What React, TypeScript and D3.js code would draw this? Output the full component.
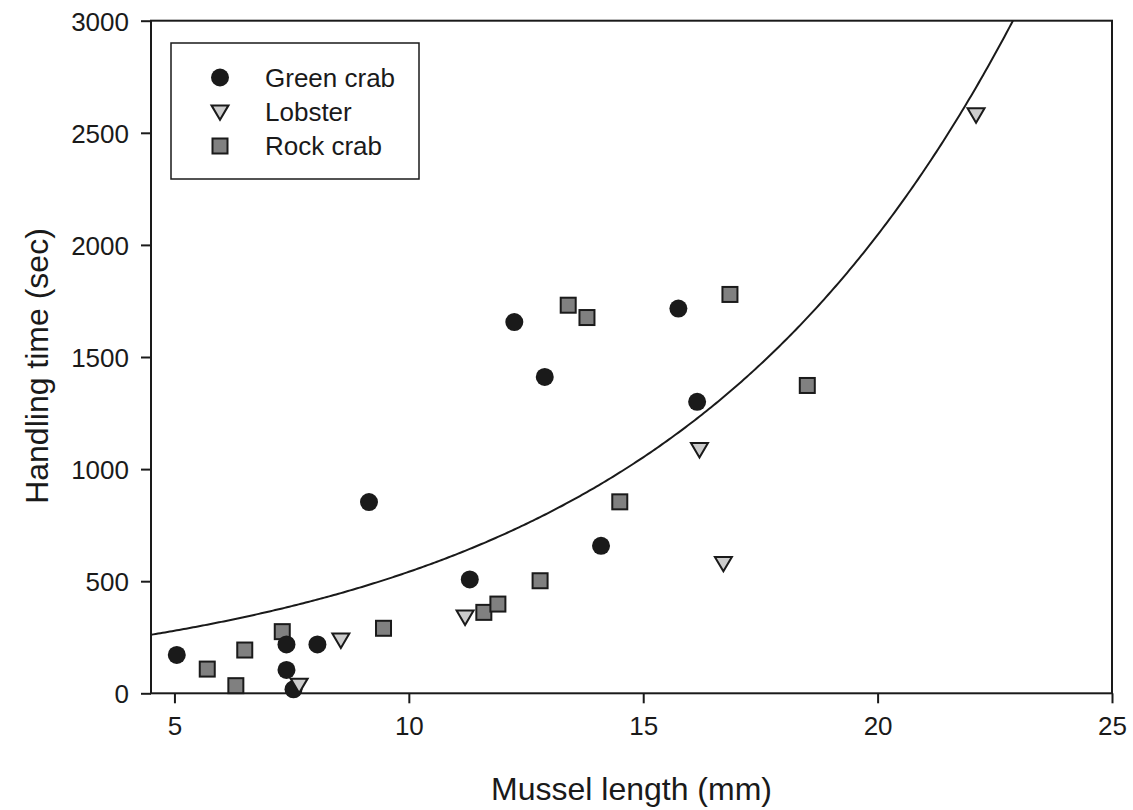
import React, { useRef, useEffect } from "react";
import * as d3 from "d3";

// data (mussel length mm, handling time sec)
const greenCrabX = [5.05, 7.39, 7.39, 7.54, 8.05, 9.15, 11.3, 12.25, 12.9, 14.1, 15.75, 16.15];
const greenCrabY = [171, 218, 104, 18, 218, 853, 508, 1656, 1411, 658, 1716, 1300];

const lobsterX = [7.66, 8.55, 11.2, 16.2, 16.71, 22.1];
const lobsterY = [37, 238, 341, 1088, 580, 2581];

const rockCrabX = [5.7, 6.31, 6.5, 7.3, 9.46, 11.6, 11.9, 12.8, 13.4, 13.8, 14.5, 16.85, 18.5];
const rockCrabY = [108, 34, 193, 275, 290, 361, 398, 502, 1731, 1676, 854, 1779, 1373];

const xTicks = [5, 10, 15, 20, 25];
const yTicks = [0, 500, 1000, 1500, 2000, 2500, 3000];

// exponential fit y = a * exp(b * x)
const fitA = 143.6;
const fitB = 0.1328;

const legendItems = ["Green crab", "Lobster", "Rock crab"];

const FONT = "'Liberation Sans', Arial, Helvetica, sans-serif";
const INK = "#1a1a1a";

const App = () => {
  const svgRef = useRef(null);

  useEffect(() => {
    document.body.style.margin = "0";

    const dims = {
      width: 1133,
      height: 810,
      left: 151,
      right: 1112,
      top: 20.7,
      bottom: 693.3,
    };

    const svg = d3
      .select(svgRef.current)
      .attr("width", dims.width)
      .attr("height", dims.height);

    svg.selectAll("*").remove();

    // Scales
    const xScale = d3.scaleLinear().domain([4.5, 25]).range([dims.left, dims.right]);
    const yScale = d3.scaleLinear().domain([0, 3000]).range([dims.bottom, dims.top]);

    svg
      .append("clipPath")
      .attr("id", "plot-clip")
      .append("rect")
      .attr("x", dims.left)
      .attr("y", dims.top)
      .attr("width", dims.right - dims.left)
      .attr("height", dims.bottom - dims.top);

    // fitted curve
    const curveXs = d3.range(4.5, 25.01, 0.05);
    const line = d3
      .line()
      .x((d) => xScale(d))
      .y((d) => yScale(fitA * Math.exp(fitB * d)));

    svg
      .append("path")
      .datum(curveXs)
      .attr("d", line)
      .attr("clip-path", "url(#plot-clip)")
      .attr("fill", "none")
      .attr("stroke", INK)
      .attr("stroke-width", 2);

    // Axes (outward ticks on left and bottom)
    const xAxis = d3
      .axisBottom(xScale)
      .tickValues(xTicks)
      .tickSizeInner(10)
      .tickSizeOuter(0)
      .tickPadding(13);

    const xAxisGroup = svg
      .append("g")
      .attr("transform", `translate(0, ${dims.bottom})`)
      .call(xAxis);

    const yAxis = d3
      .axisLeft(yScale)
      .tickValues(yTicks)
      .tickFormat(d3.format("d"))
      .tickSizeInner(10)
      .tickSizeOuter(0)
      .tickPadding(12);

    const yAxisGroup = svg
      .append("g")
      .attr("transform", `translate(${dims.left}, 0)`)
      .call(yAxis);

    [xAxisGroup, yAxisGroup].forEach((g) => {
      g.select(".domain").remove();
      g.selectAll(".tick line").attr("stroke", INK).attr("stroke-width", 2);
      g.selectAll(".tick text")
        .attr("fill", INK)
        .style("font-family", FONT)
        .style("font-size", "26px");
    });
    yAxisGroup.selectAll(".tick text").attr("dy", "0.36em");

    // frame
    svg
      .append("rect")
      .attr("x", dims.left)
      .attr("y", dims.top)
      .attr("width", dims.right - dims.left)
      .attr("height", dims.bottom - dims.top)
      .attr("fill", "none")
      .attr("stroke", INK)
      .attr("stroke-width", 2);

    // axis titles
    svg
      .append("text")
      .attr("x", (dims.left + dims.right) / 2)
      .attr("y", 800)
      .attr("text-anchor", "middle")
      .attr("fill", INK)
      .style("font-family", FONT)
      .style("font-size", "32px")
      .text("Mussel length (mm)");

    svg
      .append("text")
      .attr("transform", `translate(48, 366) rotate(-90)`)
      .attr("text-anchor", "middle")
      .attr("fill", INK)
      .style("font-family", FONT)
      .style("font-size", "32px")
      .text("Handling time (sec)");

    // symbols
    const triangle = (cx, cy, s) =>
      `M${cx - s},${cy - s * 0.75}L${cx + s},${cy - s * 0.75}L${cx},${cy + s * 0.95}Z`;

    const drawSquare = (g, cx, cy) =>
      g
        .append("rect")
        .attr("x", cx - 7.5)
        .attr("y", cy - 7.5)
        .attr("width", 15)
        .attr("height", 15)
        .attr("fill", "#808080")
        .attr("stroke", INK)
        .attr("stroke-width", 2);

    const drawTriangle = (g, cx, cy) =>
      g
        .append("path")
        .attr("d", triangle(cx, cy, 8.5))
        .attr("fill", "#cccccc")
        .attr("stroke", INK)
        .attr("stroke-width", 2)
        .attr("stroke-linejoin", "miter");

    const drawCircle = (g, cx, cy) =>
      g.append("circle").attr("cx", cx).attr("cy", cy).attr("r", 9).attr("fill", INK);

    const points = svg.append("g");

    rockCrabX.forEach((x, i) => drawSquare(points, xScale(x), yScale(rockCrabY[i])));
    greenCrabX.forEach((x, i) => drawCircle(points, xScale(x), yScale(greenCrabY[i])));
    lobsterX.forEach((x, i) => drawTriangle(points, xScale(x), yScale(lobsterY[i])));

    // legend
    const legend = svg.append("g");
    legend
      .append("rect")
      .attr("x", 171)
      .attr("y", 43)
      .attr("width", 248)
      .attr("height", 136)
      .attr("fill", "white")
      .attr("stroke", INK)
      .attr("stroke-width", 1.5);

    const legendY = d3.scalePoint().domain(legendItems).range([77.5, 146]);
    const drawers = [drawCircle, drawTriangle, drawSquare];

    legendItems.forEach((name, i) => {
      drawers[i](legend, 220, legendY(name));
      legend
        .append("text")
        .attr("x", 265)
        .attr("y", legendY(name))
        .attr("dy", "0.36em")
        .attr("fill", INK)
        .style("font-family", FONT)
        .style("font-size", "26px")
        .text(name);
    });
  }, []);

  return (
    <div>
      <svg ref={svgRef} style={{ display: "block" }} />
    </div>
  );
};

export default App;
